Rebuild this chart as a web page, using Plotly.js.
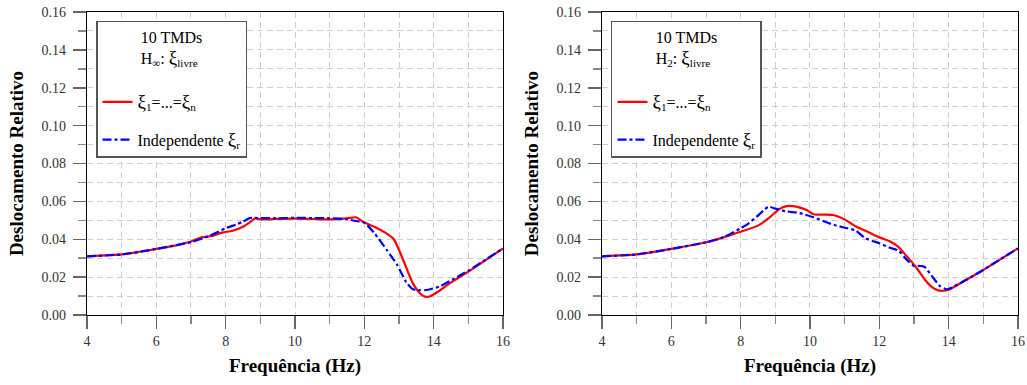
<!DOCTYPE html>
<html>
<head>
<meta charset="utf-8">
<script src="https://cdn.plot.ly/plotly-3.0.1.min.js"></script>
<style>html,body{margin:0;padding:0;background:#fff;}#chart{width:1027px;height:385px;}</style>
</head>
<body>
<div id="chart"></div>
<script>
// ---- data ----
const hinfEqF = [4, 4.5, 5, 5.5, 6, 6.5, 7, 7.3, 7.6, 7.9, 8.2, 8.5, 8.7, 8.85, 9, 9.5, 10, 10.5, 11, 11.5, 11.75, 12, 12.3, 12.6, 12.85, 13.1, 13.4, 13.6, 13.75, 13.9, 14.1, 14.5, 15, 15.5, 16];
const hinfEqV = [0.031, 0.0315, 0.032, 0.0333, 0.0349, 0.0365, 0.0388, 0.041, 0.0417, 0.0435, 0.0445, 0.0466, 0.049, 0.051, 0.0505, 0.0508, 0.0509, 0.0507, 0.0505, 0.051, 0.0516, 0.0488, 0.0465, 0.0435, 0.040, 0.030, 0.0167, 0.0115, 0.0097, 0.0099, 0.012, 0.0172, 0.0229, 0.029, 0.0352];

const hinfIndF = [4, 5, 6, 7, 7.5, 8, 8.3, 8.5, 8.7, 9, 9.5, 10, 10.5, 11, 11.5, 11.8, 12, 12.3, 12.65, 12.95, 13.2, 13.4, 13.6, 13.8, 14.2, 14.6, 15, 15.5, 16];
const hinfIndV = [0.031, 0.032, 0.0349, 0.0385, 0.0415, 0.0458, 0.0478, 0.0493, 0.0512, 0.0512, 0.0511, 0.0513, 0.0512, 0.0511, 0.0505, 0.0495, 0.0488, 0.043, 0.0343, 0.0264, 0.0176, 0.0136, 0.0131, 0.0132, 0.0153, 0.0193, 0.0234, 0.0293, 0.0352];

const h2EqF = [4, 5, 6, 7, 7.5, 8, 8.5, 8.8, 9.05, 9.2, 9.4, 9.6, 9.9, 10.1, 10.4, 10.7, 11.0, 11.3, 11.6, 12.0, 12.3, 12.55, 12.8, 13.05, 13.3, 13.5, 13.7, 13.85, 14.0, 14.5, 15, 15.5, 16];
const h2EqV = [0.031, 0.032, 0.0349, 0.0384, 0.041, 0.044, 0.0472, 0.051, 0.055, 0.0568, 0.0576, 0.0572, 0.0555, 0.0532, 0.053, 0.0527, 0.0505, 0.047, 0.0445, 0.041, 0.039, 0.036, 0.0308, 0.0255, 0.019, 0.015, 0.013, 0.0128, 0.0133, 0.0185, 0.0238, 0.0295, 0.0352];

const h2IndF = [4, 5, 6, 7, 7.5, 8, 8.2, 8.46, 8.65, 8.8, 9.0, 9.3, 9.7, 10.1, 10.4, 10.7, 11.0, 11.3, 11.6, 12.0, 12.3, 12.55, 12.8, 13.0, 13.15, 13.3, 13.5, 13.75, 13.95, 14.5, 15, 15.5, 16];
const h2IndV = [0.031, 0.032, 0.0349, 0.0384, 0.041, 0.0458, 0.048, 0.0519, 0.055, 0.0572, 0.0562, 0.0548, 0.0538, 0.0516, 0.0495, 0.0475, 0.0461, 0.0448, 0.0405, 0.0379, 0.0355, 0.034, 0.029, 0.0259, 0.0259, 0.0255, 0.021, 0.0153, 0.0136, 0.0185, 0.0238, 0.0295, 0.0352];

const nameEq = "<span style='font-size:19px'>ξ</span><sub>1</sub>=...=<span style='font-size:19px'>ξ</span><sub>n</sub>";
const nameInd = "Independente <span style='font-size:19px'>ξ</span><sub>r</sub>";
const legTitle1 = "10 TMDs<br>H<sub>∞</sub>: <span style='font-size:19px'>ξ</span><sub>livre</sub><br>\u00a0";
const legTitle2 = "10 TMDs<br>H<sub>2</sub>: <span style='font-size:19px'>ξ</span><sub>livre</sub><br>\u00a0";
const xTitle = "Frequência (Hz)";
const yTitle = "Deslocamento Relativo";

const SERIF = "'Liberation Serif', serif";
const red = "#ff0000", blue = "#0000ff";

function tr(x, y, name, color, dash, xa, ya, leg, grp) {
  return {x: x, y: y, name: name, type: "scatter", mode: "lines",
    xaxis: xa, yaxis: ya, legend: leg, legendgroup: grp,
    line: {color: color, width: 2.2, dash: dash, shape: "spline", smoothing: 0.6}};
}

const data = [
  tr(hinfEqF, hinfEqV, nameEq, red, "solid", "x", "y", "legend", "a"),
  tr(hinfIndF, hinfIndV, nameInd, blue, "dashdot", "x", "y", "legend", "b"),
  tr(h2EqF, h2EqV, nameEq, red, "solid", "x2", "y2", "legend2", "a"),
  tr(h2IndF, h2IndV, nameInd, blue, "dashdot", "x2", "y2", "legend2", "b")
];

const gridCol = "#cfcfcf";
function xax(domain, anchor) {
  return {domain: domain, anchor: anchor, range: [4, 16], tick0: 4, dtick: 2,
    ticks: "outside", ticklen: 13, tickwidth: 1.5, tickcolor: "#666",
    showline: true, linecolor: "#000", linewidth: 1.2, mirror: true,
    showgrid: true, gridcolor: gridCol, griddash: "6px,4px", gridwidth: 1,
    zeroline: false, automargin: false, fixedrange: true,
    tickfont: {family: SERIF, size: 14, color: "#333"},
    minor: {dtick: 1, tick0: 4, ticks: "outside", ticklen: 8, tickwidth: 1.5, tickcolor: "#888",
      showgrid: true, gridcolor: gridCol, griddash: "6px,4px", gridwidth: 1},
    title: {text: xTitle, standoff: 10, font: {family: SERIF, size: 19, color: "#000", weight: "bold"}}};
}
function yax(anchor) {
  return {domain: [0.1818, 0.9688], anchor: anchor, range: [0, 0.16], tick0: 0, dtick: 0.02,
    tickformat: ".2f", ticks: "outside", ticklen: 13, tickwidth: 1.5, tickcolor: "#666",
    ticklabelstandoff: 4,
    showline: true, linecolor: "#000", linewidth: 1.2, mirror: true,
    showgrid: true, gridcolor: gridCol, griddash: "6px,4px", gridwidth: 1,
    zeroline: false, automargin: false, fixedrange: true,
    tickfont: {family: SERIF, size: 14, color: "#333"},
    minor: {dtick: 0.01, ticks: "outside", ticklen: 8, tickwidth: 1.5, tickcolor: "#888",
      showgrid: true, gridcolor: gridCol, griddash: "6px,4px", gridwidth: 1},
    title: {text: yTitle, standoff: 12, font: {family: SERIF, size: 19, color: "#000", weight: "bold"}}};
}
function leg(x, title) {
  return {x: x, y: 0.9455, xanchor: "left", yanchor: "top",
    bgcolor: "#fff", bordercolor: "#555", borderwidth: 1.5,
    font: {family: SERIF, size: 16, color: "#000"},
    title: {text: title, side: "top center", font: {family: SERIF, size: 16, color: "#000"}},
    traceorder: "grouped", tracegroupgap: 14, itemwidth: 30};
}

const layout = {
  width: 1027, height: 385,
  margin: {l: 0, r: 0, t: 0, b: 0},
  paper_bgcolor: "#fff", plot_bgcolor: "#fff",
  font: {family: SERIF},
  showlegend: true,
  xaxis: xax([0.0847, 0.4898], "y"),
  yaxis: yax("x"),
  xaxis2: xax([0.5862, 0.9912], "y2"),
  yaxis2: yax("x2"),
  legend: leg(0.0935, legTitle1),
  legend2: leg(0.5949, legTitle2)
};

Plotly.newPlot("chart", data, layout, {displayModeBar: false, staticPlot: true});
</script>
</body>
</html>
